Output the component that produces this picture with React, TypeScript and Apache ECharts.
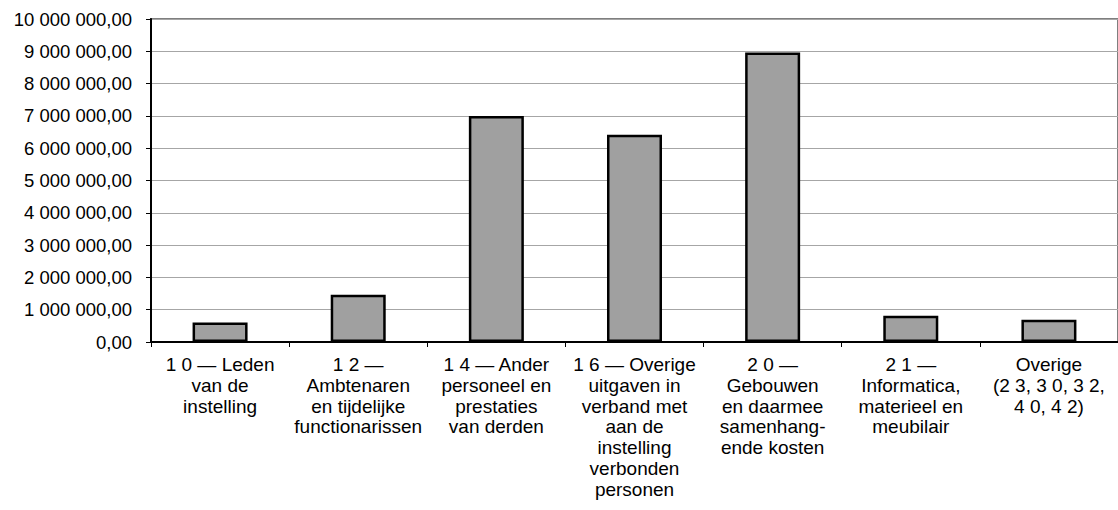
import React, { useEffect, useRef } from "react";
import * as echarts from "echarts";

const categories: string[] = [
  "1 0 — Leden\nvan de\ninstelling",
  "1 2 —\nAmbtenaren\nen tijdelijke\nfunctionarissen",
  "1 4 — Ander\npersoneel en\nprestaties\nvan derden",
  "1 6 — Overige\nuitgaven in\nverband met\naan de\ninstelling\nverbonden\npersonen",
  "2 0 —\nGebouwen\nen daarmee\nsamenhang-\nende kosten",
  "2 1 —\nInformatica,\nmaterieel en\nmeubilair",
  "Overige\n(2 3, 3 0, 3 2,\n4 0, 4 2)",
];

const values: number[] = [600000, 1460000, 7000000, 6420000, 8960000, 810000, 690000];

const yMin = 0;
const yMax = 10000000;
const yInterval = 1000000;

function formatAmount(v: number): string {
  const s = String(Math.round(v)).replace(/\B(?=(\d{3})+(?!\d))/g, " ");
  return s + ",00";
}

export default function App() {
  const ref = useRef<HTMLDivElement>(null);
  useEffect(() => {
    if (!ref.current) return;
    const chart = echarts.init(ref.current, undefined, { renderer: "svg" });
    const font = "'Liberation Sans', Arial, sans-serif";
    chart.setOption({
      animation: false,
      backgroundColor: "#ffffff",
      grid: {
        left: 151,
        top: 19,
        width: 980,
        height: 323,
        containLabel: false,
        show: true,
        borderColor: "#7f7f7f",
        borderWidth: 2,
      },
      xAxis: {
        type: "category",
        data: categories,
        boundaryGap: true,
        axisLine: { show: true, lineStyle: { color: "#000", width: 2 } },
        axisTick: { show: true, length: 5, alignWithLabel: false, lineStyle: { color: "#000", width: 1 } },
        axisLabel: {
          interval: 0,
          color: "#000",
          fontFamily: font,
          fontSize: 19,
          lineHeight: 20.8,
          margin: 12,
          align: "center",
        },
        splitLine: { show: false },
      },
      yAxis: {
        type: "value",
        min: yMin,
        max: yMax,
        interval: yInterval,
        axisLine: { show: true, lineStyle: { color: "#000", width: 2 } },
        axisTick: { show: true, length: 5, lineStyle: { color: "#000", width: 1 } },
        axisLabel: {
          color: "#000",
          fontFamily: font,
          fontSize: 18.5,
          margin: 19,
          formatter: (v: number) => formatAmount(v),
        },
        splitLine: { show: true, lineStyle: { color: "#a6a6a6", width: 1 } },
      },
      series: [
        {
          type: "bar",
          data: values,
          barWidth: 55,
          itemStyle: {
            color: "#a0a0a0",
            borderColor: "#000",
            borderWidth: 2.5,
          },
        },
      ],
    });
    return () => chart.dispose();
  }, []);
  return (
    <div
      ref={ref}
      style={{ position: "absolute", left: 0, top: 0, width: 1118, height: 510, background: "#fff" }}
    />
  );
}
